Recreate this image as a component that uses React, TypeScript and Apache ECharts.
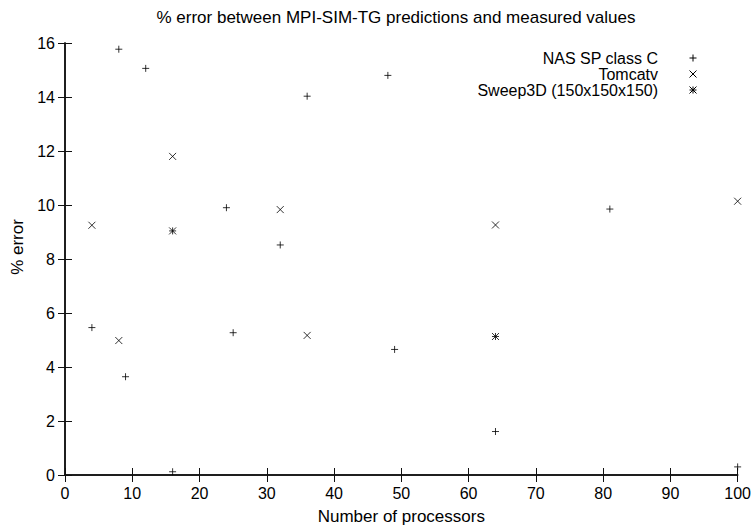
import React, { useEffect, useRef } from "react";
import * as echarts from "echarts";

const titleText = "% error between MPI-SIM-TG predictions and measured values";
const xName = "Number of processors";
const yName = "% error";

const seriesNames = ["NAS SP class C", "Tomcatv", "Sweep3D (150x150x150)"];

const nasSP: number[][] = [
  [4, 5.46], [8, 15.77], [9, 3.64], [12, 15.06], [16, 0.12], [24, 9.9], [25, 5.27],
  [32, 8.52], [36, 14.03], [48, 14.8], [49, 4.65], [64, 1.61], [81, 9.85], [100, 0.3],
];
const tomcatv: number[][] = [
  [4, 9.25], [8, 4.98], [16, 11.8], [32, 9.83], [36, 5.17], [64, 9.26], [100, 10.14],
];
const sweep3d: number[][] = [
  [16, 9.04], [64, 5.13],
];

const PLUS = "path://M0,5L10,5M5,0L5,10";
const CROSS = "path://M0,0L10,10M0,10L10,0";
const STAR = "path://M0,5L10,5M5,0L5,10M0,0L10,10M0,10L10,0";

const FONT = "Liberation Sans, Arial, Helvetica, sans-serif";
const INK = "#000";

function legendGlyph(kind: string, cx: number, cy: number, r: number) {
  const ls = { stroke: INK, lineWidth: 1 };
  const els: any[] = [];
  if (kind === "plus" || kind === "star") {
    els.push({ type: "line", shape: { x1: cx - r, y1: cy, x2: cx + r, y2: cy }, style: ls });
    els.push({ type: "line", shape: { x1: cx, y1: cy - r, x2: cx, y2: cy + r }, style: ls });
  }
  if (kind === "cross" || kind === "star") {
    els.push({ type: "line", shape: { x1: cx - r, y1: cy - r, x2: cx + r, y2: cy + r }, style: ls });
    els.push({ type: "line", shape: { x1: cx - r, y1: cy + r, x2: cx + r, y2: cy - r }, style: ls });
  }
  return els;
}

export default function App() {
  const ref = useRef<HTMLDivElement>(null);
  useEffect(() => {
    if (!ref.current) return;
    const chart = echarts.init(ref.current, undefined, { renderer: "svg" });
    const axisLine = { show: true, lineStyle: { color: "#111", width: 1.5 } };
    const tick = { show: true, inside: true, length: 7, lineStyle: { color: "#111", width: 1 } };
    const label = { color: INK, fontFamily: FONT, fontSize: 16 };
    const glyphs = ["plus", "cross", "star"];
    const legendY = [58, 74, 90];
    const graphic: any[] = [
      {
        type: "text", x: 396, y: 17,
        style: { text: titleText, font: `17px ${FONT}`, fill: INK, align: "center", verticalAlign: "middle" },
      },
      {
        type: "text", x: 17, y: 247, rotation: Math.PI / 2,
        style: { text: yName, font: `17px ${FONT}`, fill: INK, align: "center", verticalAlign: "middle" },
      },
    ];
    seriesNames.forEach((n, i) => {
      graphic.push({
        type: "text", x: 658, y: legendY[i],
        style: { text: n, font: `16px ${FONT}`, fill: INK, align: "right", verticalAlign: "middle" },
      });
      legendGlyph(glyphs[i], 693, legendY[i], 3.5).forEach((g) => graphic.push(g));
    });
    const mk = (name: string, data: number[][], sym: string, size: number) => ({
      type: "scatter", name, data, symbol: sym, symbolSize: size, clip: false, silent: true,
      itemStyle: { color: "rgba(0,0,0,0)", borderColor: INK, borderWidth: 1 },
      xAxisIndex: 0, yAxisIndex: 0,
    });
    chart.setOption({
      animation: false,
      backgroundColor: "#fff",
      grid: { left: 65, right: 15, top: 43, bottom: 51, containLabel: false },
      xAxis: [
        {
          type: "value", min: 0, max: 100, interval: 10, position: "bottom",
          axisLine, axisTick: tick, splitLine: { show: false },
          axisLabel: { ...label, margin: 10 },
          name: xName, nameLocation: "middle", nameGap: 33,
          nameTextStyle: { color: INK, fontFamily: FONT, fontSize: 17 },
        },
        {
          type: "value", min: 0, max: 100, interval: 10, position: "top",
          axisLine, axisTick: tick, splitLine: { show: false }, axisLabel: { show: false },
        },
      ],
      yAxis: [
        {
          type: "value", min: 0, max: 16, interval: 2, position: "left",
          axisLine, axisTick: tick, splitLine: { show: false },
          axisLabel: { ...label, margin: 10 },
        },
        {
          type: "value", min: 0, max: 16, interval: 2, position: "right",
          axisLine, axisTick: tick, splitLine: { show: false }, axisLabel: { show: false },
        },
      ],
      graphic,
      series: [
        mk(seriesNames[0], nasSP, PLUS, 7),
        mk(seriesNames[1], tomcatv, CROSS, 7),
        mk(seriesNames[2], sweep3d, STAR, 7),
      ],
    });
    return () => chart.dispose();
  }, []);
  return (
    <div
      ref={ref}
      style={{ position: "fixed", left: 0, top: 0, width: 754, height: 530, background: "#fff" }}
    />
  );
}
